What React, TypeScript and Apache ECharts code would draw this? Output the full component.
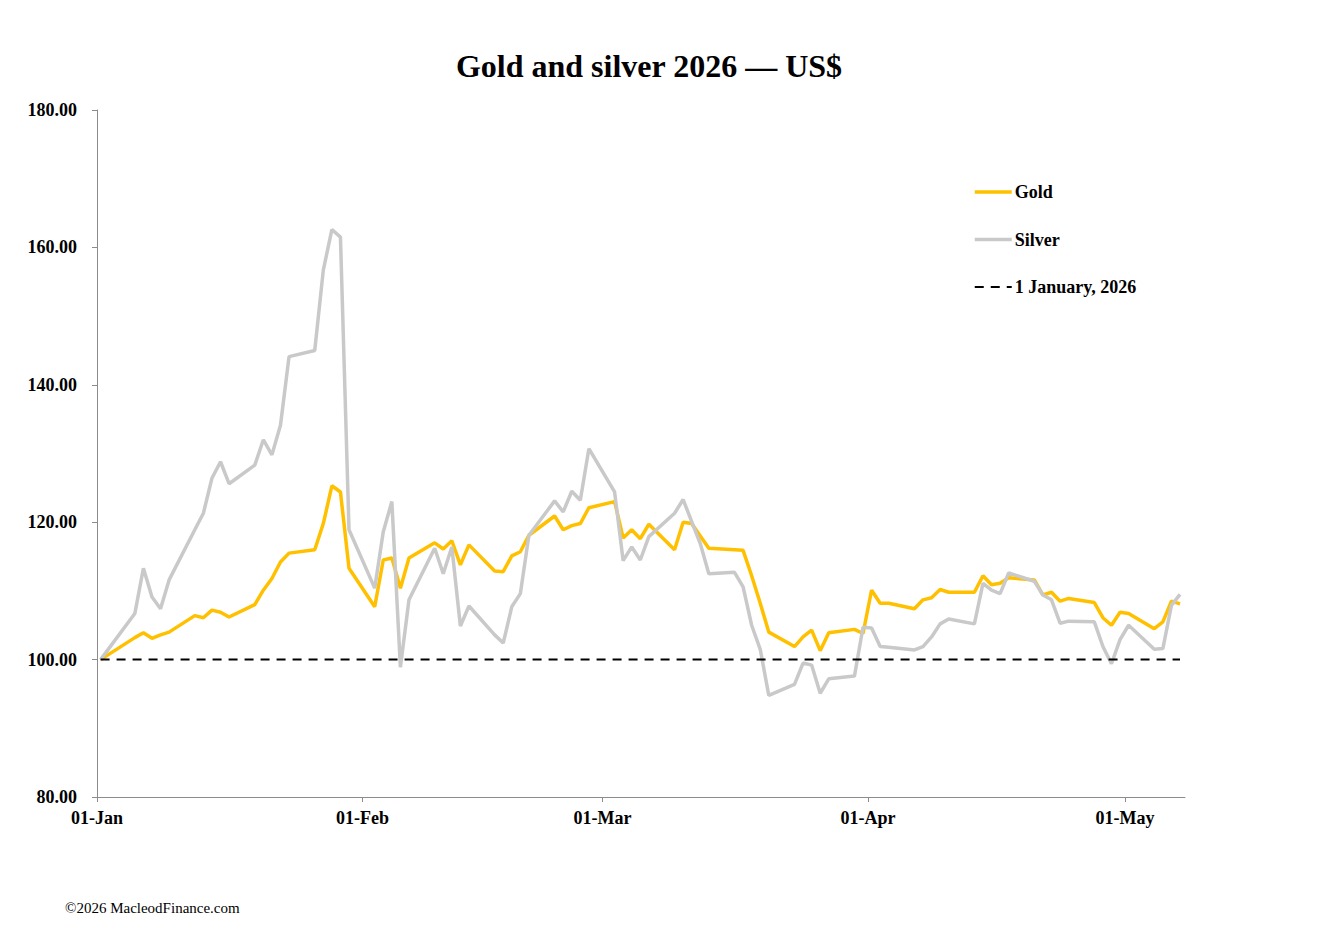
import React, { useEffect, useRef } from "react";
import * as echarts from "echarts";

const dates = [
  "2026-01-01", "2026-01-05", "2026-01-06", "2026-01-07", "2026-01-08", "2026-01-09",
  "2026-01-12", "2026-01-13", "2026-01-14", "2026-01-15", "2026-01-16",
  "2026-01-19", "2026-01-20", "2026-01-21", "2026-01-22", "2026-01-23",
  "2026-01-26", "2026-01-27", "2026-01-28", "2026-01-29", "2026-01-30",
  "2026-02-02", "2026-02-03", "2026-02-04", "2026-02-05", "2026-02-06",
  "2026-02-09", "2026-02-10", "2026-02-11", "2026-02-12", "2026-02-13",
  "2026-02-16", "2026-02-17", "2026-02-18", "2026-02-19", "2026-02-20",
  "2026-02-23", "2026-02-24", "2026-02-25", "2026-02-26", "2026-02-27",
  "2026-03-02", "2026-03-03", "2026-03-04", "2026-03-05", "2026-03-06",
  "2026-03-09", "2026-03-10", "2026-03-11", "2026-03-12", "2026-03-13",
  "2026-03-16", "2026-03-17", "2026-03-18", "2026-03-19", "2026-03-20",
  "2026-03-23", "2026-03-24", "2026-03-25", "2026-03-26", "2026-03-27",
  "2026-03-30", "2026-03-31", "2026-04-01", "2026-04-02", "2026-04-03",
  "2026-04-06", "2026-04-07", "2026-04-08", "2026-04-09", "2026-04-10",
  "2026-04-13", "2026-04-14", "2026-04-15", "2026-04-16", "2026-04-17",
  "2026-04-20", "2026-04-21", "2026-04-22", "2026-04-23", "2026-04-24",
  "2026-04-27", "2026-04-28", "2026-04-29", "2026-04-30", "2026-05-01",
  "2026-05-04", "2026-05-05", "2026-05-06", "2026-05-07",
];

const gold = [
  100.0, 103.2, 103.9, 103.1, 103.6, 104.0,
  106.4, 106.1, 107.2, 106.9, 106.2,
  108.0, 110.1, 111.8, 114.2, 115.5,
  116.0, 119.8, 125.3, 124.4, 113.3,
  107.7, 114.5, 114.8, 110.4, 114.8,
  117.0, 116.1, 117.3, 113.8, 116.7,
  112.9, 112.8, 115.1, 115.7, 118.1,
  120.9, 118.9, 119.5, 119.8, 122.1,
  123.0, 117.7, 118.9, 117.6, 119.7,
  116.0, 120.0, 119.8, 118.0, 116.2,
  116.0, 115.9, 112.2, 108.2, 104.0,
  101.9, 103.3, 104.3, 101.3, 103.9,
  104.4, 103.8, 110.1, 108.2, 108.2,
  107.4, 108.7, 109.0, 110.2, 109.8,
  109.8, 112.2, 110.9, 111.1, 111.9,
  111.6, 109.4, 109.8, 108.5, 108.9,
  108.3, 106.1, 105.0, 106.9, 106.7,
  104.5, 105.5, 108.5, 108.1,
];

const silver = [
  100.0, 106.7, 113.3, 109.1, 107.4, 111.6,
  118.9, 121.3, 126.4, 128.8, 125.6,
  128.3, 132.0, 129.8, 134.1, 144.1,
  145.0, 156.7, 162.6, 161.5, 118.9,
  110.4, 118.6, 123.0, 98.9, 108.7,
  116.2, 112.5, 116.4, 104.9, 107.8,
  103.6, 102.4, 107.7, 109.6, 118.1,
  123.1, 121.5, 124.5, 123.2, 130.7,
  124.4, 114.4, 116.4, 114.5, 117.9,
  121.3, 123.3, 120.1, 116.9, 112.5,
  112.7, 110.6, 105.0, 101.5, 94.8,
  96.4, 99.5, 99.2, 95.1, 97.2,
  97.6, 104.7, 104.6, 101.9, 101.8,
  101.4, 101.9, 103.3, 105.2, 105.9,
  105.2, 111.1, 110.1, 109.6, 112.6,
  111.4, 109.4, 108.7, 105.3, 105.6,
  105.5, 101.9, 99.4, 102.9, 105.0,
  101.5, 101.6, 107.9, 109.5,
];

const baselineDates = ["2026-01-01", "2026-05-07"];
const baselineValues = [100, 100];

const seriesNames = ["Gold", "Silver", "1 January, 2026"];
const yTicks = { min: 80, max: 180, interval: 20 };
const axisStart = "2026-01-01";
const axisEnd = "2026-05-08";
const monthNames = ["Jan", "Feb", "Mar", "Apr", "May", "Jun", "Jul", "Aug", "Sep", "Oct", "Nov", "Dec"];

const FONT = "'Liberation Serif', 'Times New Roman', serif";
// points sit a little after the date's midnight boundary, as in the source chart
const POINT_OFFSET_MS = 10 * 3600 * 1000;

function toTime(s: string) {
  const [y, m, d] = s.split("-").map(Number);
  return new Date(y, m - 1, d).getTime();
}

export default function App() {
  const ref = useRef<HTMLDivElement>(null);
  useEffect(() => {
    if (!ref.current) return;
    const chart = echarts.init(ref.current, undefined, { renderer: "svg" });
    const goldData = dates.map((d, i) => [toTime(d) + POINT_OFFSET_MS, gold[i]]);
    const silverData = dates.map((d, i) => [toTime(d) + POINT_OFFSET_MS, silver[i]]);
    const baseData = baselineDates.map((d, i) => [toTime(d) + POINT_OFFSET_MS, baselineValues[i]]);
    chart.setOption({
      animation: false,
      backgroundColor: "#ffffff",
      grid: { left: 97, right: 139, top: 110, bottom: 151, containLabel: false },
      graphic: [
        {
          type: "text",
          x: 649,
          y: 66,
          style: {
            text: "Gold and silver 2026 \u2014 US$",
            fill: "#000",
            font: `bold 32px ${FONT}`,
            textAlign: "center",
            textVerticalAlign: "middle",
          },
        },
        {
          type: "text",
          x: 65,
          y: 908,
          style: {
            text: "\u00A92026 MacleodFinance.com",
            fill: "#000",
            font: `15px ${FONT}`,
            textAlign: "left",
            textVerticalAlign: "middle",
          },
        },
      ],
      legend: {
        orient: "vertical",
        left: 968,
        top: 178,
        itemWidth: 37,
        itemHeight: 18,
        itemGap: 29.5,
        textStyle: { fontFamily: FONT, fontWeight: "bold", fontSize: 18, color: "#000", padding: [0, 0, 0, -2] },
        itemStyle: { opacity: 0 },
        data: [
          { name: seriesNames[0], lineStyle: { width: 3.5 } },
          { name: seriesNames[1], lineStyle: { width: 3.5 } },
          { name: seriesNames[2], lineStyle: { width: 2 } },
        ],
      },
      xAxis: {
        type: "time",
        min: toTime(axisStart),
        max: toTime(axisEnd),
        minInterval: 28 * 86400000,
        maxInterval: 31 * 86400000,
        splitLine: { show: false },
        axisLine: { show: true, lineStyle: { color: "#8c8c8c", width: 1 } },
        axisTick: { show: true, length: 5, lineStyle: { color: "#8c8c8c" } },
        axisLabel: {
          margin: 12,
          fontFamily: FONT,
          fontWeight: "bold",
          fontSize: 18,
          color: "#000",
          showMinLabel: true,
          formatter: (v: number) => {
            const d = new Date(v);
            const dd = String(d.getDate()).padStart(2, "0");
            return `${dd}-${monthNames[d.getMonth()]}`;
          },
        },
      },
      yAxis: {
        type: "value",
        min: yTicks.min,
        max: yTicks.max,
        interval: yTicks.interval,
        splitLine: { show: false },
        axisLine: { show: true, lineStyle: { color: "#8c8c8c", width: 1 } },
        axisTick: { show: true, length: 5, lineStyle: { color: "#8c8c8c" } },
        axisLabel: {
          margin: 20,
          fontFamily: FONT,
          fontWeight: "bold",
          fontSize: 18,
          color: "#000",
          formatter: (v: number) => v.toFixed(2),
        },
      },
      series: [
        {
          name: seriesNames[0],
          type: "line",
          data: goldData,
          showSymbol: false,
          symbol: "none",
          lineStyle: { color: "#FFC000", width: 3.5 },
          itemStyle: { color: "#FFC000" },
        },
        {
          name: seriesNames[1],
          type: "line",
          data: silverData,
          showSymbol: false,
          symbol: "none",
          lineStyle: { color: "#C9C9C9", width: 3.5 },
          itemStyle: { color: "#C9C9C9" },
        },
        {
          name: seriesNames[2],
          type: "line",
          data: baseData,
          showSymbol: false,
          symbol: "none",
          lineStyle: { color: "#000", width: 2, type: [9, 7] },
          itemStyle: { color: "#000" },
        },
      ],
    });
    return () => chart.dispose();
  }, []);
  return (
    <div
      ref={ref}
      style={{ position: "absolute", left: 0, top: 0, width: 1324, height: 948 }}
    />
  );
}
